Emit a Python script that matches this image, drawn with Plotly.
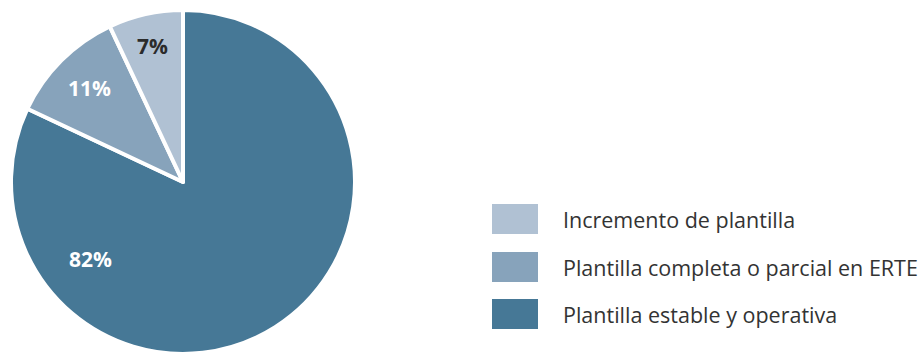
import math
import plotly.graph_objects as go

labels = ["Incremento de plantilla", "Plantilla completa o parcial en ERTE", "Plantilla estable y operativa"]
values = [7, 11, 82]
colors = ["#b0c1d3", "#87a3bb", "#467896"]
text_colors = ["#2b2b2b", "#ffffff", "#ffffff"]
# where inside each slice the label sits (fraction of the slice's span, fraction of radius)
label_pos = [(0.5, 0.81), (0.5, 0.77), (0.22, 0.70)]

W, H = 924, 354
dom_x = [11 / W, 355 / W]
dom_y = [0.0, 344 / H]

# slices go counterclockwise from 12 o'clock in legend order; same as clockwise in reverse order
fig = go.Figure(go.Pie(
    labels=labels[::-1], values=values[::-1], sort=False, direction="clockwise", rotation=0,
    marker=dict(colors=colors[::-1], line=dict(color="white", width=4)),
    textinfo="none", hoverinfo="label+percent", showlegend=False,
    domain=dict(x=dom_x, y=dom_y),
))

# pie geometry in pixels
r = min((dom_x[1] - dom_x[0]) * W, (dom_y[1] - dom_y[0]) * H) / 2
cx = (dom_x[0] + dom_x[1]) / 2 * W
cy = (dom_y[0] + dom_y[1]) / 2 * H  # from bottom

total = sum(values)
start = 0.0
font_fam = "'Open Sans', 'Noto Sans', sans-serif"
for v, tc, (af, rf) in zip(values, text_colors, label_pos):
    span = v / total * 360
    ang = math.radians(start + af * span)  # ccw from top
    px = cx - rf * r * math.sin(ang)
    py = cy + rf * r * math.cos(ang)
    fig.add_annotation(x=px / W, y=py / H, xref="paper", yref="paper",
                       xanchor="center", yanchor="middle",
                       text=f"<b>{round(v / total * 100)}%</b>", showarrow=False,
                       font=dict(size=21, color=tc, family=font_fam))
    start += span

# custom legend with large swatches
leg_x0, sw_w, sw_h = 492, 46, 30
row_y = [219, 267, 314]  # pixel centers from top
for lab, col, yy in zip(labels, colors, row_y):
    fig.add_shape(type="rect", xref="paper", yref="paper",
                  x0=leg_x0 / W, x1=(leg_x0 + sw_w) / W,
                  y0=1 - (yy - sw_h / 2) / H, y1=1 - (yy + sw_h / 2) / H,
                  fillcolor=col, line=dict(width=0))
    fig.add_annotation(x=561 / W, y=1 - yy / H, xref="paper", yref="paper",
                       text=lab, showarrow=False, xanchor="left", yanchor="middle",
                       font=dict(size=21.5, color="#333333", family=font_fam))

fig.update_layout(width=W, height=H, margin=dict(l=0, r=0, t=0, b=0),
                  paper_bgcolor="white", plot_bgcolor="white")
fig.write_html("out.html", config={"displayModeBar": False},
               post_script="document.body.style.margin='0';")
